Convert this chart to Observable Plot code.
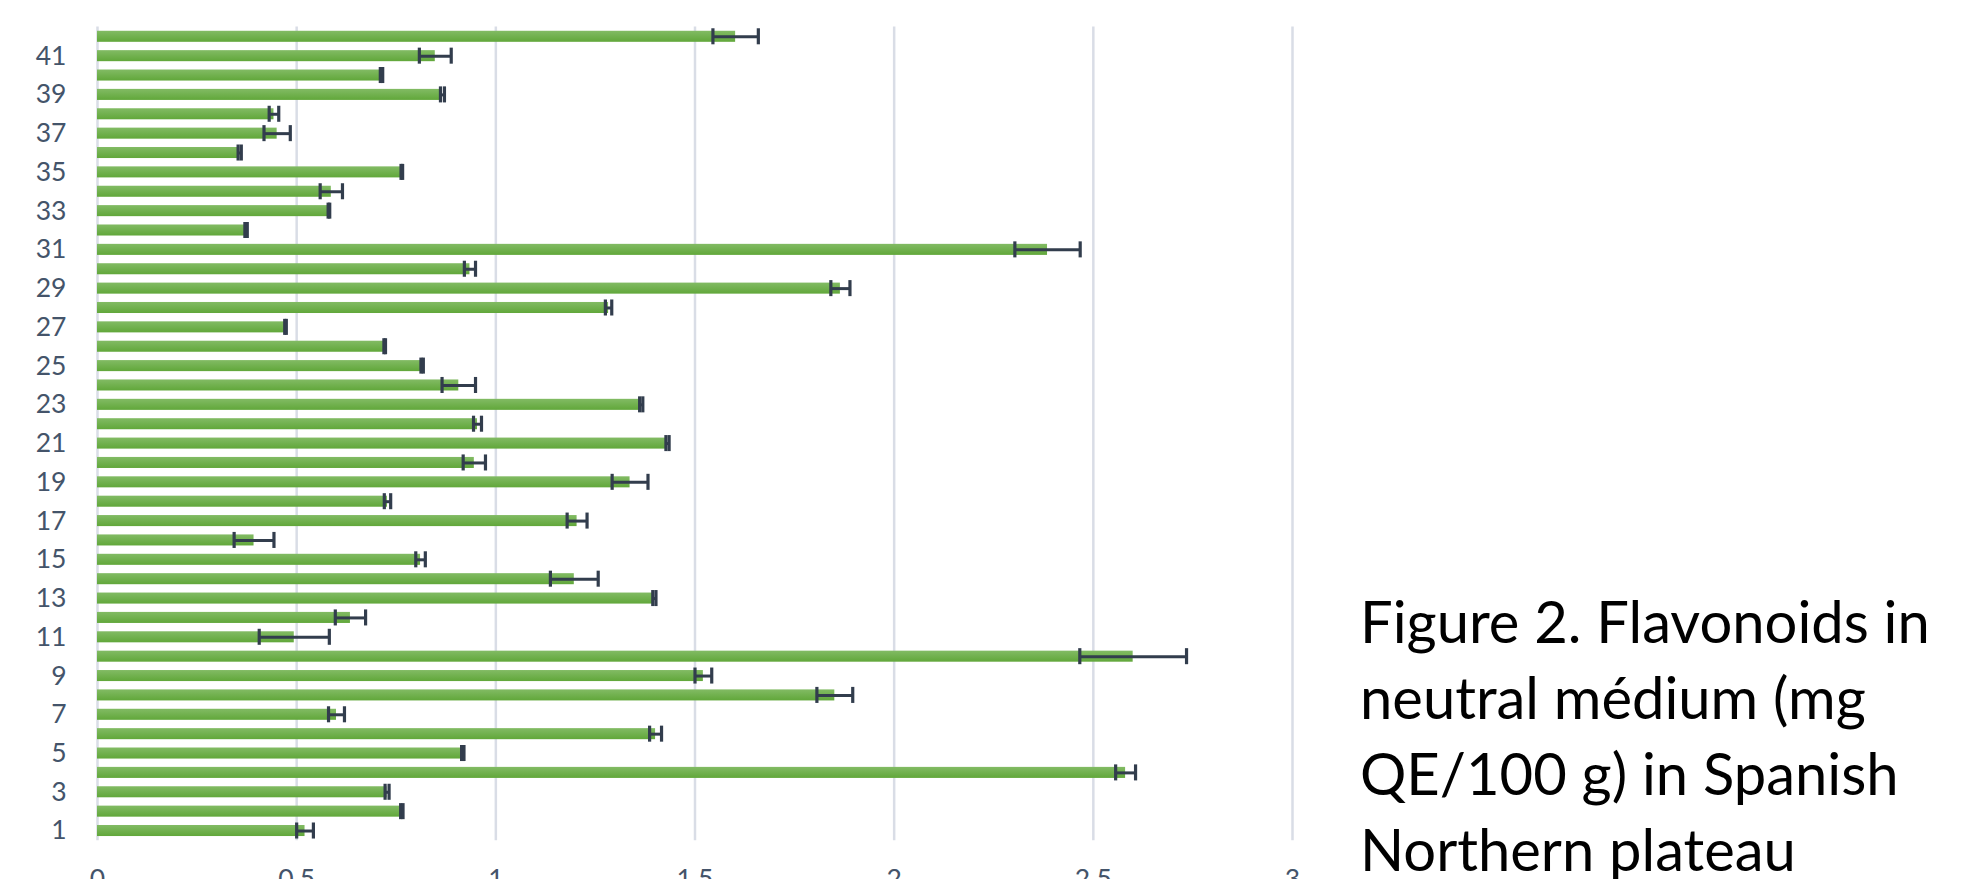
<!DOCTYPE html>
<html><head><meta charset="utf-8">
<script src="https://cdn.jsdelivr.net/npm/d3@7"></script>
<script src="https://cdn.jsdelivr.net/npm/@observablehq/plot@0.6"></script>
<style>
html,body{margin:0;padding:0;background:#fff;overflow:hidden;width:1986px;height:879px;}
#chart{position:absolute;left:0;top:0;}
#title{position:absolute;left:1360px;top:584px;font-family:Lato,sans-serif;color:#000;white-space:nowrap;line-height:76px;}
</style></head><body>
<div id="chart"></div>
<div id="title"></div>
<script>
const samples = [1,2,3,4,5,6,7,8,9,10,11,12,13,14,15,16,17,18,19,20,21,22,23,24,25,26,27,28,29,30,31,32,33,34,35,36,37,38,39,40,41,42];
const means = [0.521,0.764,0.727,2.581,0.917,1.401,0.600,1.851,1.521,2.600,
               0.494,0.635,1.398,1.197,0.811,0.393,1.204,0.728,1.337,0.946,
               1.431,0.954,1.365,0.907,0.815,0.721,0.472,1.283,1.865,0.935,
               2.385,0.373,0.581,0.587,0.764,0.357,0.451,0.443,0.866,0.713,
               0.848,1.602];
const errors = [0.021,0.003,0.005,0.025,0.003,0.015,0.020,0.045,0.021,0.134,
                0.088,0.038,0.004,0.060,0.012,0.050,0.025,0.008,0.045,0.028,
                0.004,0.010,0.004,0.042,0.003,0.002,0.002,0.008,0.024,0.014,
                0.082,0.003,0.002,0.028,0.002,0.004,0.033,0.012,0.005,0.003,
                0.040,0.057];
const yTickLabels = [1,3,5,7,9,11,13,15,17,19,21,23,25,27,29,31,33,35,37,39,41];
const xTicks = [0,0.5,1,1.5,2,2.5,3];
const xTickLabels = ["0","0.5","1","1.5","2","2.5","3"];
const titleLines = ["Figure 2. Flavonoids in","neutral médium (mg","QE/100 g) in Spanish","Northern plateau"];

const data = samples.map((s,i)=>({sample:s, mean:means[i], lo:means[i]-errors[i], hi:means[i]+errors[i]}));
const errColor = "#323D4D";

const chart = Plot.plot({
  width: 1330, height: 900,
  marginLeft: 97, marginRight: 38, marginTop: 26.6, marginBottom: 59.8,
  style: {fontFamily: "Lato, sans-serif", fontSize: "26.5px", color: "#44546A", background: "transparent", overflow: "visible"},
  x: {domain: [0,3], ticks: xTicks, tickFormat: d => xTickLabels[xTicks.indexOf(d)], tickSize: 0, tickPadding: 28, label: null},
  y: {domain: samples.slice().reverse(), ticks: yTickLabels, tickSize: 0, tickPadding: 31, label: null, paddingInner: 0.43, paddingOuter: 0.215, round: false},
  marks: [
    Plot.ruleX(xTicks, {stroke: "#D9DDE6", strokeWidth: 2.5}),
    Plot.barX(data, {y: "sample", x: "mean", fill: "url(#barGrad)"}),
    Plot.ruleY(data, {y: "sample", x1: "lo", x2: "hi", stroke: errColor, strokeWidth: 3}),
    Plot.tickX(data, {y: "sample", x: "lo", stroke: errColor, strokeWidth: 3.2, insetTop: -2.5, insetBottom: -2.5}),
    Plot.tickX(data, {y: "sample", x: "hi", stroke: errColor, strokeWidth: 3.2, insetTop: -2.5, insetBottom: -2.5})
  ]
});
const defs = d3.select(chart).insert("defs", ":first-child");
const grad = defs.append("linearGradient").attr("id", "barGrad").attr("x1", 0).attr("y1", 0).attr("x2", 0).attr("y2", 1);
grad.append("stop").attr("offset", "0%").attr("stop-color", "#82BB64");
grad.append("stop").attr("offset", "100%").attr("stop-color", "#61A73A");
document.getElementById("chart").appendChild(chart);

// title sizing
const ctx = document.createElement("canvas").getContext("2d");
ctx.font = "100px Lato";
const w = ctx.measureText(titleLines[0]).width;
const fs = 100 * 570 / w;
const title = document.getElementById("title");
title.style.fontSize = fs + "px";
const baseOff = (76 - 1.2 * fs) / 2 + 0.987 * fs;
title.style.top = (643 - baseOff) + "px";
titleLines.forEach(t => { const d = document.createElement("div"); d.textContent = t; title.appendChild(d); });
</script>
</body></html>
